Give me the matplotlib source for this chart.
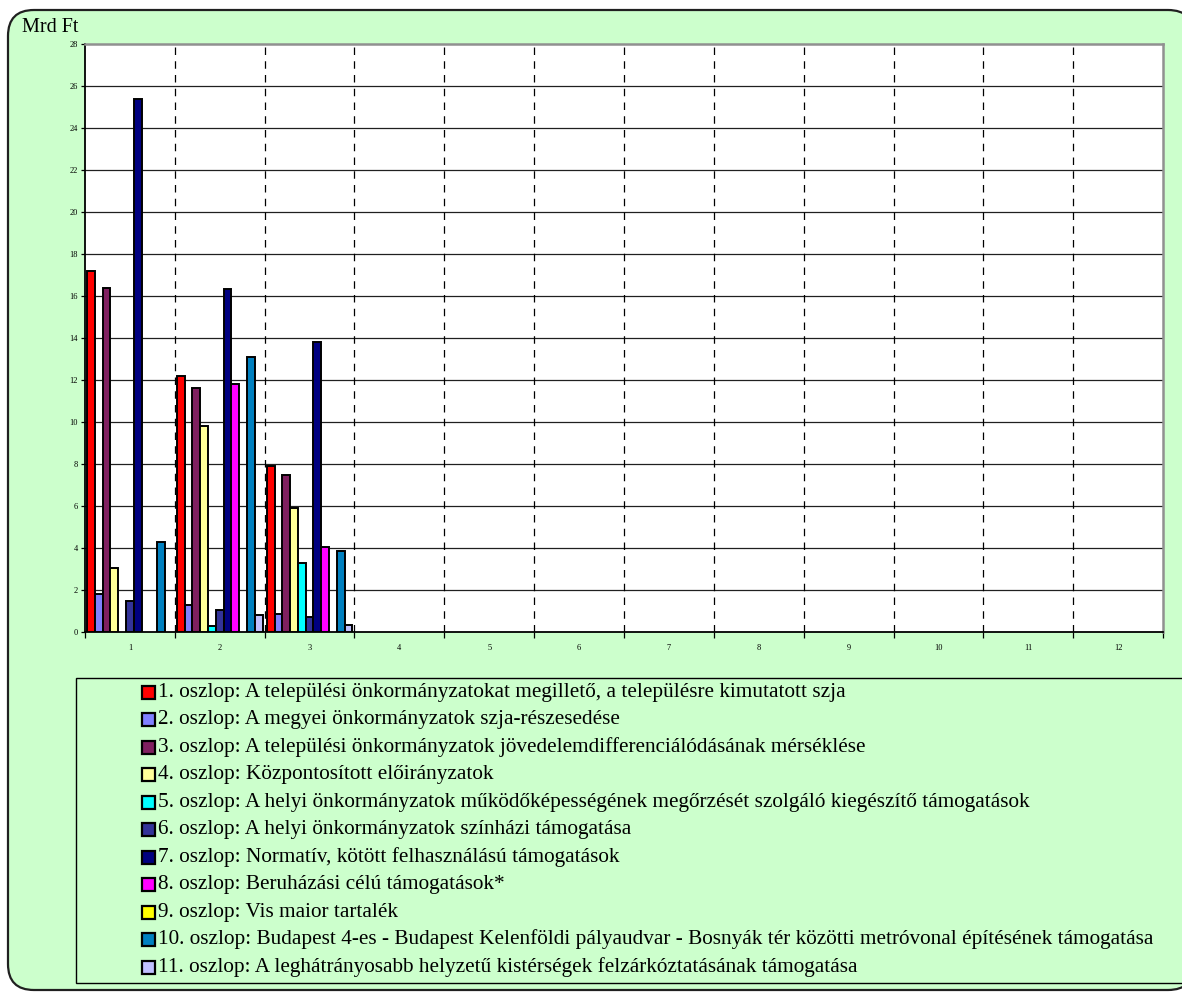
"""Önkormányzati támogatások oszlopdiagram (Mrd Ft), 11 oszlop-sorozat."""
import matplotlib
matplotlib.use("Agg")
import matplotlib.pyplot as plt
from matplotlib.patches import FancyBboxPatch, Rectangle

plt.rcParams["font.family"] = ["Liberation Serif", "DejaVu Serif"]

# --- adatok -------------------------------------------------------------
categories = list(range(1, 13))
y_ticks = list(range(0, 29, 2))

s1 = [17.2, 12.2, 7.9]
s2 = [1.8, 1.3, 0.85]
s3 = [16.4, 11.6, 7.5]
s4 = [3.05, 9.8, 5.9]
s5 = [0.0, 0.3, 3.3]
s6 = [1.5, 1.05, 0.72]
s7 = [25.4, 16.35, 13.8]
s8 = [0.0, 11.8, 4.05]
s9 = [0.0, 0.0, 0.0]
s10 = [4.3, 13.1, 3.85]
s11 = [0.0, 0.8, 0.33]
series = [s1, s2, s3, s4, s5, s6, s7, s8, s9, s10, s11]

labels = [
    "1. oszlop: A települési önkormányzatokat megillető, a településre kimutatott szja",
    "2. oszlop: A megyei önkormányzatok szja-részesedése",
    "3. oszlop: A települési önkormányzatok jövedelemdifferenciálódásának mérséklése",
    "4. oszlop: Központosított előirányzatok",
    "5. oszlop: A helyi önkormányzatok működőképességének megőrzését szolgáló kiegészítő támogatások",
    "6. oszlop: A helyi önkormányzatok színházi támogatása",
    "7. oszlop: Normatív, kötött felhasználású támogatások",
    "8. oszlop: Beruházási célú támogatások*",
    "9. oszlop: Vis maior tartalék",
    "10. oszlop: Budapest 4-es - Budapest Kelenföldi pályaudvar - Bosnyák tér közötti metróvonal építésének támogatása",
    "11. oszlop: A leghátrányosabb helyzetű kistérségek felzárkóztatásának támogatása",
]
colors = ["#FF0000", "#8080FF", "#802060", "#FFFF99", "#00FFFF", "#333399",
          "#000080", "#FF00FF", "#FFFF00", "#0080C0", "#C0C0FF"]

BG = "#CCFFCC"
W, H = 1182, 994

fig = plt.figure(figsize=(W / 100, H / 100), dpi=100)
fig.patch.set_facecolor("white")

# háttér tengely pixel-koordinátákkal (keret + jelmagyarázat)
bg = fig.add_axes([0, 0, 1, 1], zorder=0)
bg.set_xlim(0, W)
bg.set_ylim(H, 0)
bg.axis("off")
bg.add_patch(FancyBboxPatch((8, 10), 1186, 980,
                            boxstyle="round,pad=0,rounding_size=26",
                            facecolor=BG, edgecolor="#202020", linewidth=1.6))
bg.text(22, 28, "Mrd Ft", fontsize=14.5, va="center", ha="left")

# jelmagyarázat
bg.add_patch(Rectangle((76, 678), W, 305, facecolor=BG,
                       edgecolor="black", linewidth=1.0))
for i, (lab, col) in enumerate(zip(labels, colors)):
    yc = 692 + i * 27.5
    bg.add_patch(Rectangle((142, yc - 6.5), 13, 13, facecolor=col,
                           edgecolor="black", linewidth=1.6))
    bg.text(157.5, yc, lab, fontsize=15.3, va="center", ha="left")

# --- oszlopdiagram -------------------------------------------------------
ax = fig.add_axes([85 / W, 1 - 632 / H, (1163 - 85) / W, (632 - 44) / H],
                  zorder=1)
ax.set_facecolor("white")

n = len(series)
bw = 0.0867
start = -n * bw / 2
for i, (vals, col) in enumerate(zip(series, colors)):
    xs = [categories[k] + start + (i + 0.5) * bw for k in range(len(vals))]
    hs = [v if v > 0 else float("nan") for v in vals]
    ax.bar(xs, hs, width=bw, color=col, edgecolor="black",
           linewidth=1.4, zorder=3)

ax.set_xlim(categories[0] - 0.5, categories[-1] + 0.5)
ax.set_ylim(y_ticks[0], y_ticks[-1])

ax.set_yticks(y_ticks)
ax.set_yticklabels([str(t) for t in y_ticks], fontsize=6)
for t in y_ticks[1:-1]:
    ax.axhline(t, color="#202020", linewidth=0.9, zorder=1)

ax.set_xticks(categories)
ax.set_xticklabels([str(c) for c in categories], fontsize=6)
ax.tick_params(axis="x", which="major", length=0, pad=9)
bounds = [c + 0.5 for c in categories[:-1]]
ax.set_xticks([categories[0] - 0.5] + bounds + [categories[-1] + 0.5], minor=True)
ax.tick_params(axis="x", which="minor", length=4, width=0.9, direction="out")
ax.tick_params(axis="y", length=3, width=0.9, direction="out", pad=2)
for b in bounds:
    ax.axvline(b, color="black", linewidth=0.9, linestyle=(0, (6, 5)), zorder=1)

for side in ("left", "bottom"):
    ax.spines[side].set_color("black")
    ax.spines[side].set_linewidth(1.3)
for side in ("top", "right"):
    ax.spines[side].set_color("#909090")
    ax.spines[side].set_linewidth(1.8)

fig.savefig("out.png", dpi=100)
